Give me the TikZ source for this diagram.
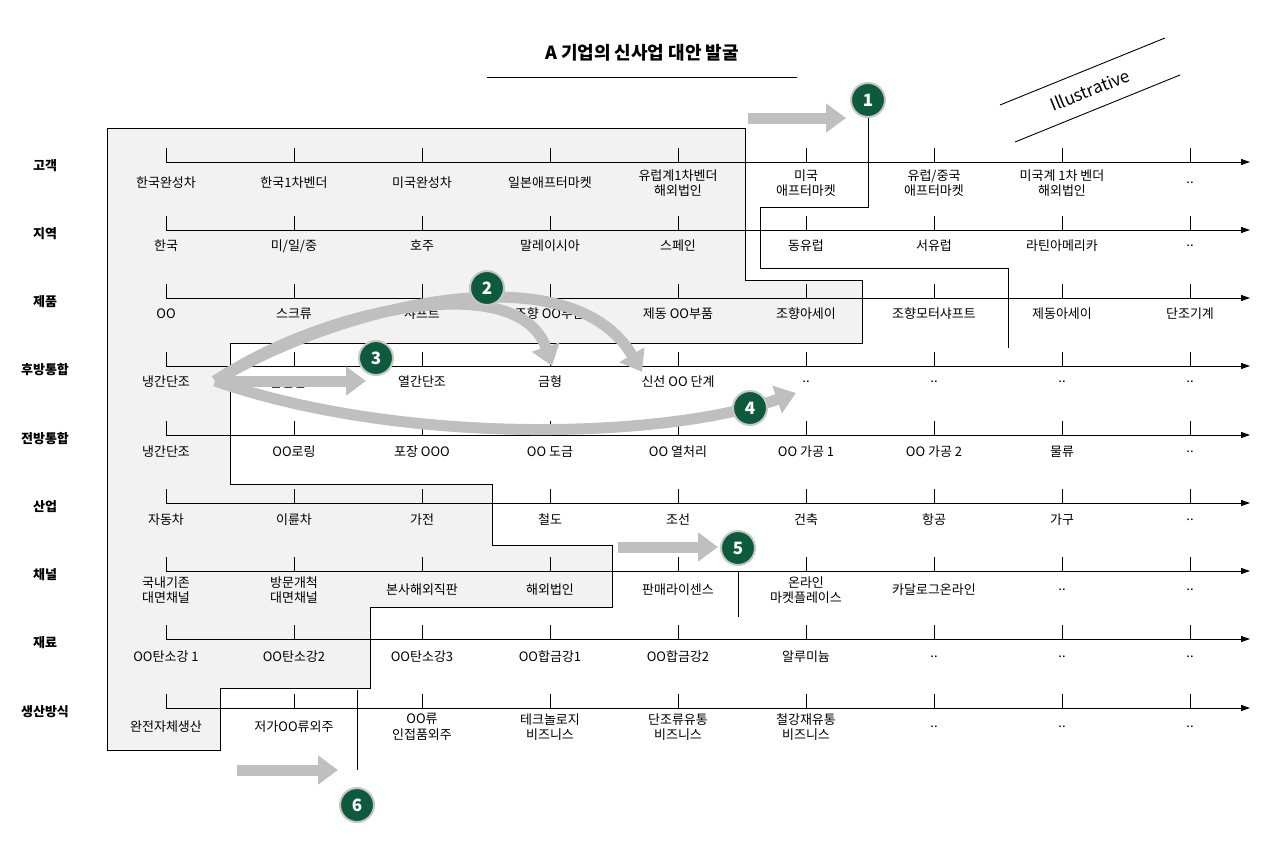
\documentclass[tikz,border=0pt]{standalone}
\usepackage{fontspec}
\setmainfont{Noto Sans CJK KR}
\usetikzlibrary{arrows.meta}
\definecolor{dgreen}{HTML}{0D5A3C}
\definecolor{lightfill}{HTML}{F2F2F2}
\definecolor{arr}{HTML}{BFBFBF}
\begin{document}
\begin{tikzpicture}[x=1pt,y=-1pt,
  lbl/.style={font=\fontsize{13}{15.5}\selectfont,align=center,inner sep=1pt},
  rowlbl/.style={font=\fontsize{13}{15}\selectfont\bfseries,anchor=center},
  axis/.style={line width=0.9pt,-{Triangle[length=9pt,width=6pt]}},
  garrow/.style={draw=arr,line width=11pt,-{Triangle[length=20pt,width=28pt]}},
  num/.style={circle,fill=dgreen,draw=gray!45,line width=2pt,minimum size=34pt,inner sep=0pt,text=white,font=\fontsize{17}{17}\selectfont\bfseries},
  bnd/.style={line width=0.8pt}]
\useasboundingbox (0,0) rectangle (1280,854);
% shaded region
\fill[fill=lightfill,draw=black,line width=0.8pt] (107,128) -- (745,128) -- (745,280) -- (862,280) -- (862,343) -- (230,343) -- (230,484) -- (492,484) -- (492,545) -- (612,545) -- (612,607) -- (370,607) -- (370,688) -- (220,688) -- (220,750) -- (107,750) -- cycle;
% boundary lines
\coordinate (b1) at (868,118); \coordinate (b2) at (868,207); \coordinate (b3) at (760,207);
\coordinate (b4) at (760,268); \coordinate (b5) at (1008,268); \coordinate (b6) at (1008,348);
\draw[bnd] (b1) -- (b2) -- (b3) -- (b4) -- (b5) -- (b6);
\coordinate (c1) at (738,571); \coordinate (c2) at (738,617);
\draw[bnd] (c1) -- (c2);
\coordinate (d1) at (357,690); \coordinate (d2) at (357,770);
\draw[bnd] (d1) -- (d2);
% title
\node[font=\fontsize{18}{20}\selectfont\bfseries] (title) at (642,53) {A 기업의 신사업 대안 발굴};
\coordinate (u1) at (487,77); \coordinate (u2) at (797,77);
\draw[line width=0.8pt] (u1) -- (u2);
\node[rotate=22,font=\fontsize{17}{18}\selectfont,inner sep=0pt] (ill) at (1090,90) {Illustrative};
\coordinate (i1) at (1000,105); \coordinate (i2) at (1165,38);
\coordinate (i3) at (1015,142); \coordinate (i4) at (1180,75);
\draw[line width=0.9pt] (i1) -- (i2); \draw[line width=0.9pt] (i3) -- (i4);
% rows
\foreach \name/\y [count=\r] in {고객/162,지역/230,제품/298,후방통합/366,전방통합/435,산업/503,채널/571,재료/639,생산방식/708}{
  \node[rowlbl] (rl\r) at (45,\y+4) {\name};
  \coordinate (as\r) at (166,\y); \coordinate (ae\r) at (1250,\y);
  \draw[axis] (as\r) -- (ae\r);
  \foreach \c in {0,...,8}{
    \coordinate (t\r-\c) at (166+\c*128,\y-14);
    \draw[line width=0.8pt] (t\r-\c) -- ++(0,14);
  }
}
\newcommand\putrow[3]{\foreach \t [count=\c from 0] in {#3}{\node[lbl] (n#1-\c) at (166+\c*128,#2) {\t};}}
\putrow{1}{183}{한국완성차,한국1차벤더,미국완성차,일본애프터마켓,{유럽계1차벤더\\해외법인},{미국\\애프터마켓},{유럽/중국\\애프터마켓},{미국계 1차 벤더\\해외법인},..}
\putrow{2}{246}{한국,미/일/중,호주,말레이시아,스페인,동유럽,서유럽,라틴아메리카,..}
\putrow{3}{314}{OO,스크류,샤프트,조향 OO부품,제동 OO부품,조향아세이,조향모터샤프트,제동아세이,단조기계}
\putrow{4}{382}{냉간단조,온간단조,열간단조,금형,신선 OO 단계,..,..,..,..}
\putrow{5}{452}{냉간단조,OO로링,포장 OOO,OO 도금,OO 열처리,OO 가공 1,OO 가공 2,물류,..}
\putrow{6}{520}{자동차,이륜차,가전,철도,조선,건축,항공,가구,..}
\putrow{7}{590}{{국내기존\\대면채널},{방문개척\\대면채널},본사해외직판,해외법인,판매라이센스,{온라인\\마켓플레이스},카달로그온라인,..,..}
\putrow{8}{657}{OO탄소강 1,OO탄소강2,OO탄소강3,OO합금강1,OO합금강2,알루미늄,..,..,..}
\putrow{9}{727}{완전자체생산,저가OO류외주,{OO류\\인접품외주},{테크놀로지\\비즈니스},{단조류유통\\비즈니스},{철강재유통\\비즈니스},..,..,..}
% gray arrows
\coordinate (g1s) at (748,118); \coordinate (g1e) at (846,118);
\draw[garrow] (g1s) -- (g1e);
\coordinate (g5s) at (618,547); \coordinate (g5e) at (718,547);
\draw[garrow] (g5s) -- (g5e);
\coordinate (g6s) at (237,770); \coordinate (g6e) at (338,770);
\draw[garrow] (g6s) -- (g6e);
\coordinate (src) at (215,381);
\coordinate (g3e) at (366,381);
\draw[garrow] (src) -- (g3e);
\coordinate (g2a) at (552,366); \coordinate (g2b) at (642,372); \coordinate (g4e) at (796,393);
\draw[garrow] (src) .. controls (330,305) and (520,270) .. (g2a);
\draw[garrow] (src) .. controls (340,305) and (570,250) .. (g2b);
\draw[garrow] (src) .. controls (400,445) and (660,440) .. (g4e);
% numbers
\node[num] (k1) at (868,100) {1};
\node[num] (k2) at (487,288) {2};
\node[num] (k3) at (376,358) {3};
\node[num] (k4) at (750,408) {4};
\node[num] (k5) at (738,548) {5};
\node[num] (k6) at (357,805) {6};
\end{tikzpicture}
\end{document}
